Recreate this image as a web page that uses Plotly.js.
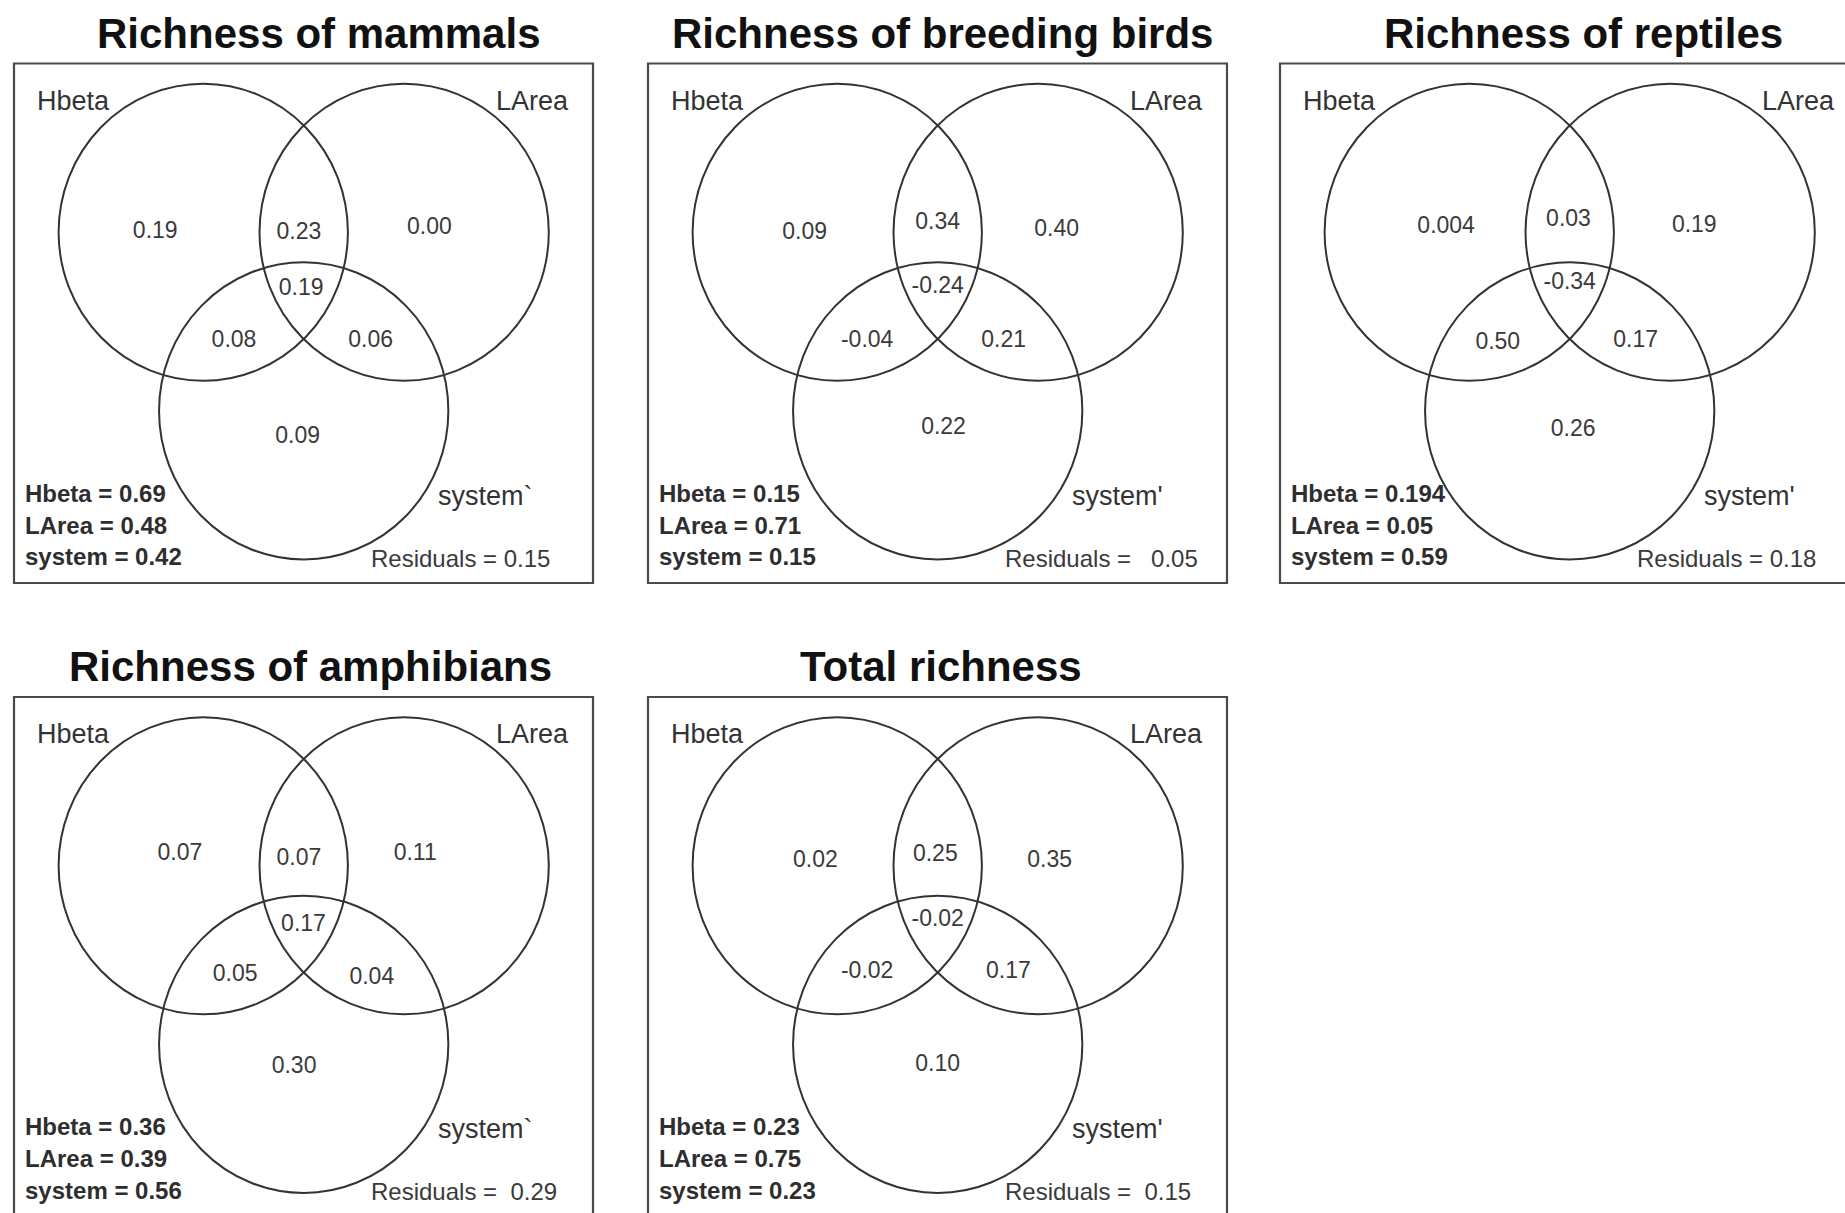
<!DOCTYPE html>
<html><head><meta charset="utf-8">
<script src="https://cdn.plot.ly/plotly-3.0.1.min.js"></script>
<style>html,body{margin:0;padding:0;background:#fff;} #chart{width:1845px;height:1213px;}</style>
</head><body><div id="chart"></div>
<script>
// ---------------- data ----------------
const panelTitles = ["Richness of mammals", "Richness of breeding birds", "Richness of reptiles",
                     "Richness of amphibians", "Total richness"];
const setNames = ["Hbeta", "LArea", "system"];
// fractions: [Hbeta only, Hbeta&LArea, LArea only, all three, Hbeta&system, LArea&system, system only]
const mammalsParts    = [0.19, 0.23, 0.00, 0.19, 0.08, 0.06, 0.09];
const birdsParts      = [0.09, 0.34, 0.40, -0.24, -0.04, 0.21, 0.22];
const reptilesParts   = [0.004, 0.03, 0.19, -0.34, 0.50, 0.17, 0.26];
const amphibiansParts = [0.07, 0.07, 0.11, 0.17, 0.05, 0.04, 0.30];
const totalParts      = [0.02, 0.25, 0.35, -0.02, -0.02, 0.17, 0.10];
// explained by each variable: [Hbeta, LArea, system]
const mammalsTotals    = [0.69, 0.48, 0.42];
const birdsTotals      = [0.15, 0.71, 0.15];
const reptilesTotals   = [0.194, 0.05, 0.59];
const amphibiansTotals = [0.36, 0.39, 0.56];
const totalTotals      = [0.23, 0.75, 0.23];
const residuals = [0.15, 0.05, 0.18, 0.29, 0.15];
const systemMarks = ["`", "'", "'", "`", "'"];

const partsByPanel = [mammalsParts, birdsParts, reptilesParts, amphibiansParts, totalParts];
const totalsByPanel = [mammalsTotals, birdsTotals, reptilesTotals, amphibiansTotals, totalTotals];

// ---------------- layout geometry (not data) ----------------
const W = 1845, H = 1213;
const panelLeft = [14, 648, 1280, 14, 648];
const panelTop  = [63.5, 63.5, 63.5, 697, 697];
const boxW = 579, boxH = 519.5;
const sx = 200.9, sy = 206.3;         // px per unit
const xLeft = -0.942, yTop = 0.818;   // unit coords at box top-left
const circleCx = [0, 1, 0.5], circleCy = [0, 0, -0.866], circleR = 0.72;
const titleCx = [319, 942, 1583, 310.6, 941];
const residualGaps = [1, 3, 1, 2, 2];
const labelPosX = [
  [-0.239, 0.476, 1.126, 0.487, 0.153, 0.833, 0.470],
  [-0.162, 0.500, 1.092, 0.500, 0.149, 0.828, 0.529],
  [-0.115, 0.494, 1.120, 0.500, 0.142, 0.828, 0.517],
  [-0.116, 0.476, 1.055, 0.499, 0.159, 0.839, 0.452],
  [-0.109, 0.488, 1.057, 0.500, 0.149, 0.852, 0.500]];
const labelPosY = [
  [0.002, -0.003, 0.019, -0.277, -0.528, -0.528, -0.996],
  [-0.003, 0.042, 0.008, -0.266, -0.528, -0.528, -0.950],
  [0.025, 0.059, 0.031, -0.249, -0.540, -0.528, -0.962],
  [0.056, 0.033, 0.056, -0.286, -0.532, -0.543, -0.977],
  [0.022, 0.050, 0.022, -0.264, -0.515, -0.515, -0.965]];

const FONT = "Liberation Sans, Arial, Helvetica, sans-serif";
function fmt(v) {
  const s = String(v);
  const d = (s.split('.')[1] || '').length;
  return v.toFixed(Math.max(2, d));
}
const NB = '\u00A0';

const data = [], shapes = [], annotations = [];
const layout = {
  width: W, height: H, autosize: false,
  margin: {l: 0, r: 0, t: 0, b: 0, pad: 0},
  paper_bgcolor: '#ffffff', plot_bgcolor: 'rgba(0,0,0,0)',
  showlegend: false, hovermode: false
};

for (let p = 0; p < 5; p++) {
  const k = p === 0 ? '' : String(p + 1);
  const L = panelLeft[p], T = panelTop[p];
  const R = Math.min(L + boxW, W), B = Math.min(T + boxH, H);
  const visW = R - L, visH = B - T;
  layout['xaxis' + k] = {
    domain: [L / W, R / W], range: [xLeft, xLeft + visW / sx],
    visible: false, fixedrange: true, anchor: 'y' + k
  };
  layout['yaxis' + k] = {
    domain: [1 - B / H, 1 - T / H], range: [yTop - visH / sy, yTop],
    visible: false, fixedrange: true, anchor: 'x' + k
  };
  // panel frame
  shapes.push({
    type: 'rect', xref: 'x' + k + ' domain', yref: 'y' + k + ' domain',
    x0: 0, x1: boxW / visW, y0: 1 - boxH / visH, y1: 1,
    line: {color: '#4a4a4a', width: 2.2}, fillcolor: 'rgba(0,0,0,0)', layer: 'below'
  });
  // circles
  for (let c = 0; c < 3; c++) {
    shapes.push({
      type: 'circle', xref: 'x' + k, yref: 'y' + k,
      x0: circleCx[c] - circleR, x1: circleCx[c] + circleR,
      y0: circleCy[c] - circleR, y1: circleCy[c] + circleR,
      line: {color: '#333333', width: 2}, fillcolor: 'rgba(0,0,0,0)', layer: 'above'
    });
  }
  // fraction values
  data.push({
    type: 'scatter', mode: 'text', xaxis: 'x' + k, yaxis: 'y' + k,
    x: labelPosX[p], y: labelPosY[p],
    text: partsByPanel[p].map(fmt), textposition: 'middle center',
    textfont: {family: FONT, size: 23, color: '#3a3a3a'},
    hoverinfo: 'skip', cliponaxis: false, showlegend: false
  });
  const px = x => (L + x) / W, py = y => 1 - (T + y) / H;
  // set names
  annotations.push({xref: 'paper', yref: 'paper', x: px(21), y: py(37), xanchor: 'left', yanchor: 'middle',
    text: setNames[0], showarrow: false, font: {family: FONT, size: 27, color: '#333'}});
  annotations.push({xref: 'paper', yref: 'paper', x: px(557), y: py(37), xanchor: 'right', yanchor: 'middle',
    text: setNames[1], showarrow: false, font: {family: FONT, size: 27, color: '#333'}});
  annotations.push({xref: 'paper', yref: 'paper', x: px(422), y: py(432), xanchor: 'left', yanchor: 'middle',
    text: setNames[2] + systemMarks[p], showarrow: false, font: {family: FONT, size: 27, color: '#333'}});
  // explained fractions
  for (let i = 0; i < 3; i++) {
    annotations.push({xref: 'paper', yref: 'paper', x: px(9), y: py(429.5 + 32 * i), xanchor: 'left', yanchor: 'middle',
      text: '<b>' + setNames[i] + ' = ' + fmt(totalsByPanel[p][i]) + '</b>', showarrow: false,
      font: {family: FONT, size: 24, color: '#2e2e2e'}});
  }
  // residuals
  annotations.push({xref: 'paper', yref: 'paper', x: px(355), y: py(494.5), xanchor: 'left', yanchor: 'middle',
    text: 'Residuals =' + NB.repeat(residualGaps[p]) + fmt(residuals[p]), showarrow: false,
    font: {family: FONT, size: 24, color: '#3a3a3a'}});
  // title
  annotations.push({xref: 'paper', yref: 'paper', x: titleCx[p] / W, y: py(-30.5), xanchor: 'center', yanchor: 'middle',
    text: '<b>' + panelTitles[p] + '</b>', showarrow: false, font: {family: FONT, size: 42, color: '#111'}});
}
layout.shapes = shapes;
layout.annotations = annotations;
Plotly.newPlot('chart', data, layout, {staticPlot: true, displayModeBar: false});
</script>
</body></html>
